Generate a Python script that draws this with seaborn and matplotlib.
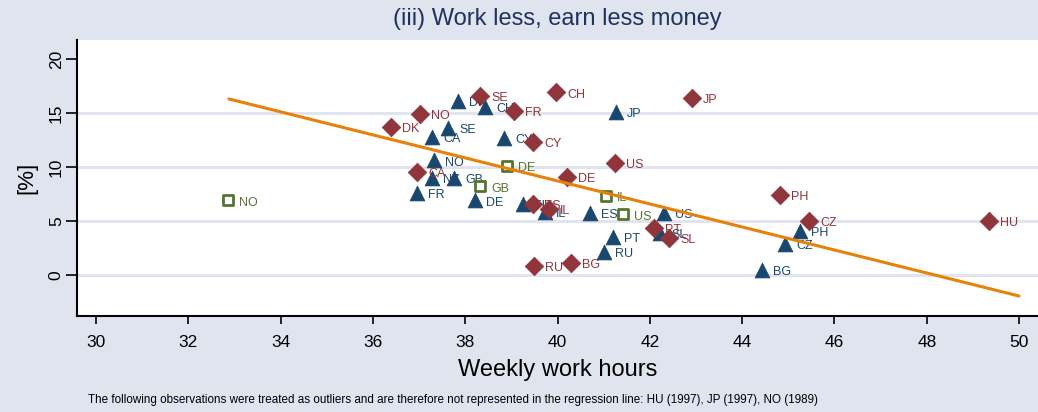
import numpy as np
import pandas as pd
import seaborn as sns
import matplotlib.pyplot as plt

# ISSP 2005 (navy triangles)
c2005 = ['DK', 'CH', 'SE', 'CA', 'CY', 'JP', 'NO', 'NZ', 'GB', 'FR', 'DE', 'FI',
         'IL', 'ES', 'US', 'PT', 'SL', 'RU', 'PH', 'CZ', 'BG']
h2005 = [37.84, 38.43, 37.63, 37.28, 38.84, 41.27, 37.32, 37.28, 37.76, 36.96, 38.21, 39.25,
         39.73, 40.70, 42.31, 41.20, 42.22, 41.00, 45.25, 44.93, 44.43]
p2005 = [16.1, 15.6, 13.6, 12.8, 12.7, 15.1, 10.6, 9.0, 9.0, 7.6, 6.9, 6.6,
         5.8, 5.7, 5.7, 3.5, 3.9, 2.1, 4.1, 2.9, 0.5]

# ISSP 1997 (maroon diamonds)
c1997 = ['SE', 'CH', 'FR', 'NO', 'DK', 'CY', 'US', 'CA', 'DE', 'PH', 'CZ', 'HU',
         'JP', 'ES', 'IL', 'PT', 'SL', 'BG', 'RU']
h1997 = [38.32, 39.97, 39.06, 37.02, 36.39, 39.47, 41.25, 36.96, 40.21, 44.82, 45.45, 49.35,
         42.91, 39.47, 39.82, 42.09, 42.42, 40.29, 39.49]
p1997 = [16.6, 16.9, 15.2, 14.9, 13.7, 12.3, 10.4, 9.5, 9.1, 7.4, 5.0, 5.0,
         16.4, 6.6, 6.1, 4.35, 3.4, 1.1, 0.8]

# ISSP 1989 (green hollow squares)
c1989 = ['NO', 'DE', 'GB', 'IL', 'US']
h1989 = [32.86, 38.90, 38.32, 41.05, 41.42]
p1989 = [6.9, 10.1, 8.2, 7.3, 5.6]

# linear fit (outliers excluded)
fit_hours = [32.88, 50.0]
fit_pct = [16.3, -1.95]

navy = '#1a476f'
maroon = '#90353b'
green = '#55752f'
orange = '#e8800a'
background_color = '#dfe4ef'

sns.set_style('white')
plt.rcParams['font.family'] = ['Liberation Sans Narrow', 'Liberation Sans', 'DejaVu Sans']
plt.rcParams['text.color'] = 'black'
plt.rcParams['axes.labelcolor'] = 'black'
plt.rcParams['xtick.color'] = 'black'
plt.rcParams['ytick.color'] = 'black'

fig = plt.figure(figsize=(10.38, 4.12), dpi=100, facecolor=background_color)
ax = fig.add_axes([0.0742, 0.233, 0.9258, 0.671])
ax.set_facecolor('white')

ax.set_xlim(29.59, 50.41)
ax.set_ylim(-3.8, 21.8)
for y in [0, 5, 10, 15]:
    ax.axhline(y, color=background_color, lw=2.2, zorder=0)

df05 = pd.DataFrame({'hours': h2005, 'pct': p2005, 'cty': c2005})
df97 = pd.DataFrame({'hours': h1997, 'pct': p1997, 'cty': c1997})
df89 = pd.DataFrame({'hours': h1989, 'pct': p1989, 'cty': c1989})

sns.scatterplot(data=df05, x='hours', y='pct', ax=ax, marker='^', s=115,
                color=navy, edgecolor=navy, linewidth=0.5, zorder=3)
sns.scatterplot(data=df97, x='hours', y='pct', ax=ax, marker='D', s=90,
                color=maroon, edgecolor=maroon, linewidth=0.5, zorder=4)
sns.scatterplot(data=df89, x='hours', y='pct', ax=ax, marker='s', s=55,
                facecolor='white', edgecolor=green, linewidth=2, zorder=4)
sns.lineplot(x=fit_hours, y=fit_pct, ax=ax, color=orange, lw=2.2, zorder=5)

for d, col, z in [(df05, navy, 3), (df97, maroon, 4), (df89, green, 4)]:
    for _, r in d.iterrows():
        ax.annotate(r['cty'], (r['hours'], r['pct']), xytext=(8, -1.5),
                    textcoords='offset points', ha='left', va='center',
                    fontsize=9, color=col, family=['Liberation Sans', 'DejaVu Sans'],
                    zorder=z)

for s in ['top', 'right']:
    ax.spines[s].set_visible(False)
for s in ['left', 'bottom']:
    ax.spines[s].set_color('black')
    ax.spines[s].set_linewidth(1.5)

ax.set_xticks(range(30, 51, 2))
ax.set_yticks([0, 5, 10, 15, 20])
ax.tick_params(axis='x', direction='out', length=6, width=1.2,
               labelsize=12.5, pad=8, bottom=True)
ax.tick_params(axis='y', direction='out', length=8, width=1.2,
               labelsize=12.5, pad=1.5, left=True)
for lab in ax.get_yticklabels():
    lab.set_rotation(90)
    lab.set_va('center')

ax.set_xlabel('Weekly work hours', fontsize=17, labelpad=6)
ax.set_ylabel('[%]', fontsize=16, labelpad=8, family=['Liberation Sans', 'DejaVu Sans'])

fig.text(0.5366, 0.953, '(iii) Work less, earn less money', ha='center', va='center',
         fontsize=17, color='#1f335e', family=['Liberation Sans', 'DejaVu Sans'])
fig.text(0.085, 0.03, 'The following observations were treated as outliers and are therefore '
         'not represented in the regression line: HU (1997), JP (1997), NO (1989)',
         ha='left', va='center', fontsize=8.4)

plt.savefig('out.png', dpi=100, facecolor=background_color)
